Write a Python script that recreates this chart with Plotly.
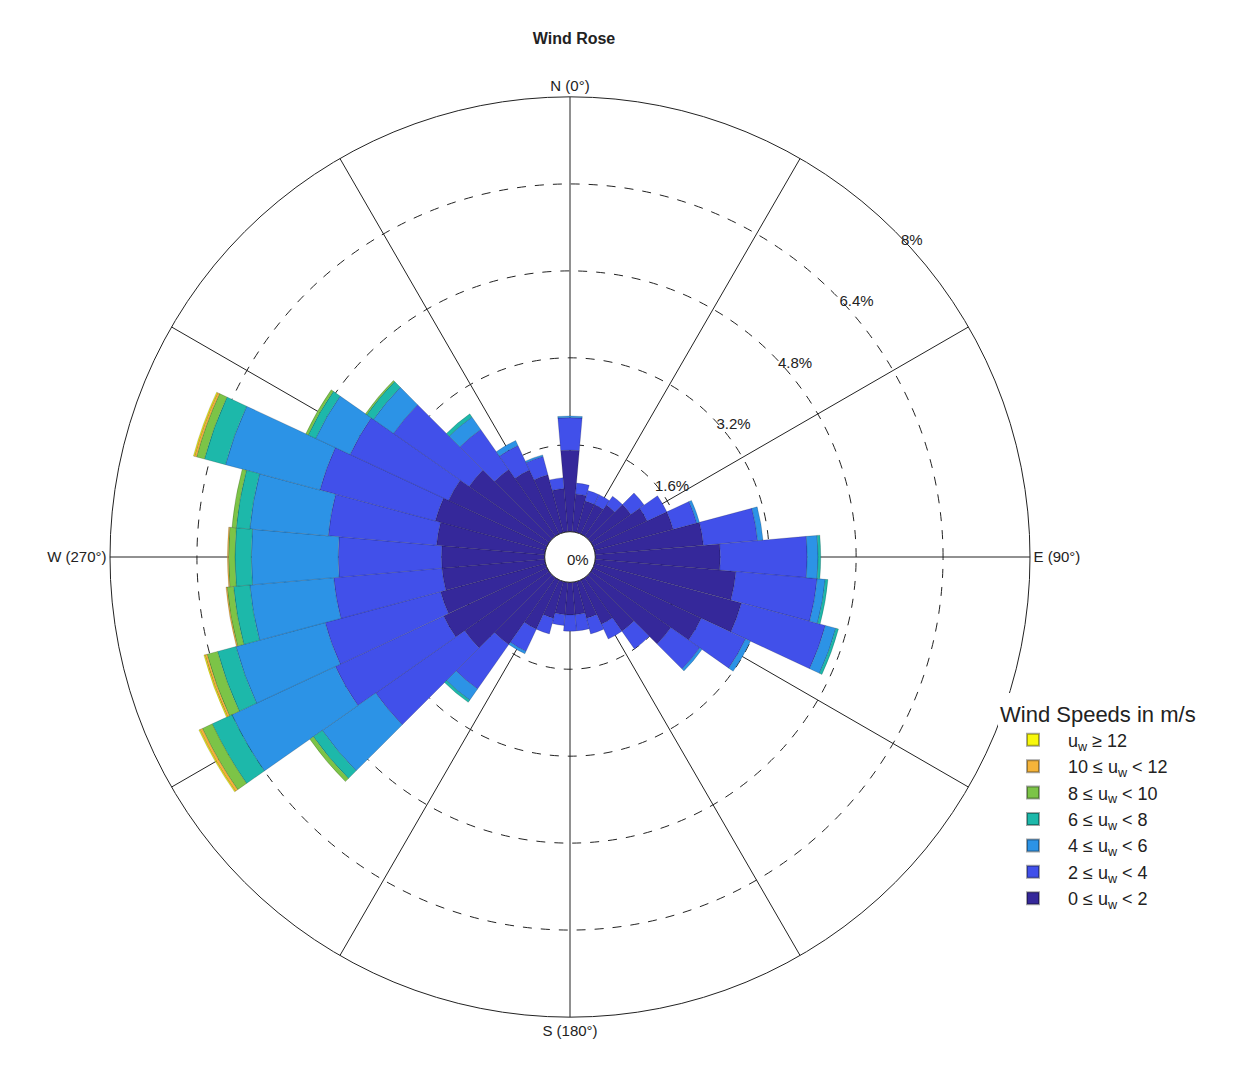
import plotly.graph_objects as go

directions = list(range(0, 360, 10))
s0_2 = [1.5,0.7,0.6,0.6,0.7,0.9,1.1,1.5,2.0,2.3,2.6,2.8,2.2,1.8,1.2,0.9,0.7,0.6,
        0.6,0.6,0.7,1.0,1.5,1.9,2.1,2.0,1.9,1.9,2.0,2.1,2.0,1.8,1.5,1.3,1.1,0.8]
s2_4 = [0.6,0.2,0.2,0.2,0.2,0.3,0.4,0.45,1.0,1.6,1.5,1.6,0.9,0.65,0.4,0.3,0.3,0.3,
        0.3,0.2,0.3,0.45,1.0,2.0,2.2,2.2,2.0,1.9,2.0,2.2,2.0,1.7,0.9,0.5,0.35,0.2]
s4_6 = [0.03,0,0,0,0,0,0,0.05,0.1,0.2,0.15,0.2,0.1,0.05,0,0,0,0,
        0,0,0,0.05,0.25,1.2,2.1,1.7,1.55,1.6,1.45,1.8,0.7,0.45,0.28,0.1,0.03,0]
s6_8 = [0,0,0,0,0,0,0,0,0,0.05,0.05,0.05,0,0,0,0,0,0,
        0,0,0,0,0.05,0.2,0.4,0.35,0.3,0.3,0.25,0.4,0.15,0.15,0.07,0,0,0]
s8_10 = [0]*22 + [0,0.08,0.2,0.2,0.12,0.12,0.08,0.15,0.05,0.03,0,0,0,0]
s10_12 = [0]*22 + [0,0,0.05,0.04,0.02,0.02,0,0.04,0,0,0,0,0,0]
s12 = [0]*22 + [0,0,0.02,0.02,0,0,0,0.02,0,0,0,0,0,0]

series = [
    ("0 ≤ u<sub>w</sub> < 2", s0_2, "#35289a"),
    ("2 ≤ u<sub>w</sub> < 4", s2_4, "#4150ea"),
    ("4 ≤ u<sub>w</sub> < 6", s4_6, "#2c93e6"),
    ("6 ≤ u<sub>w</sub> < 8", s6_8, "#1db8aa"),
    ("8 ≤ u<sub>w</sub> < 10", s8_10, "#7cc447"),
    ("10 ≤ u<sub>w</sub> < 12", s10_12, "#f5b43a"),
    ("u<sub>w</sub> ≥ 12", s12, "#f8f80c"),
]
rticks = [1.6, 3.2, 4.8, 6.4, 8]

fig = go.Figure()
for name, vals, col in series:
    fig.add_trace(go.Barpolar(r=vals, theta=directions, name=name, width=[10]*36, legendgroup=name,
                              marker=dict(color=col, line=dict(color="rgba(0,0,0,0.35)", width=0.5))))

fig.update_layout(
    width=1258, height=1089, margin=dict(l=0, r=0, t=0, b=0),
    paper_bgcolor="white", plot_bgcolor="white",
    font=dict(family="Liberation Sans, Arial", size=15, color="#222"),
    barmode="stack",
    title=dict(text="<b>Wind Rose</b>", x=566/1258, xanchor="center", y=1-30/1089, yanchor="middle",
               font=dict(size=16)),
    polar=dict(
        domain=dict(x=[102/1258, 1022/1258], y=[80/1089, 1000/1089]),
        hole=0.055, bgcolor="white",
        angularaxis=dict(rotation=90, direction="clockwise",
                         tickvals=list(range(0, 360, 30)),
                         ticktext=["N (0°)", "", "", "E (90°)", "", "", "S (180°)", "", "", "W (270°)", "", ""],
                         showgrid=True, gridcolor="#222", gridwidth=1,
                         showline=True, linecolor="#222", linewidth=1, ticks=""),
        radialaxis=dict(range=[0, 8], tickvals=rticks, ticktext=[f"{v:g}%" for v in rticks],
                        angle=45, tickangle=45, showline=False, ticks="",
                        gridcolor="#222", griddash="dash", gridwidth=1),
    ),
    legend=dict(x=990/1258, y=1-685/1089, xanchor="left", yanchor="top",
                traceorder="reversed", title=dict(text="Wind Speeds in m/s"),
                font=dict(size=18), itemsizing="constant", itemwidth=60, tracegroupgap=18),
    annotations=[dict(text="0%", x=570/1258, y=1-551/1089, xref="paper", yref="paper",
                      showarrow=False, font=dict(size=15))],
)
fig.write_html("out.html")
